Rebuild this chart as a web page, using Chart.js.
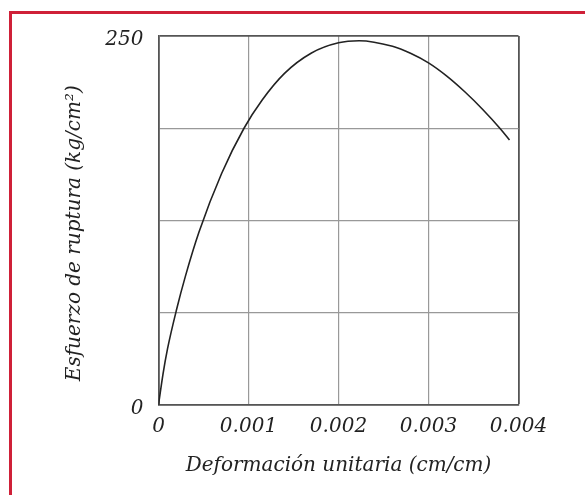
<!DOCTYPE html>
<html>
<head>
<meta charset="utf-8">
<script src="https://cdn.jsdelivr.net/npm/chart.js@4"></script>
<style>
  html, body { margin: 0; padding: 0; background: #fff; }
  #wrap { position: relative; width: 585px; height: 495px; overflow: hidden; }
  #marco { position: absolute; left: 9px; top: 11px; width: 700px; height: 700px;
           border-left: 3px solid #cf2038; border-top: 3px solid #cf2038; }
  canvas { position: absolute; left: 0; top: 0; }
</style>
</head>
<body>
<div id="wrap">
  <div id="marco"></div>
  <canvas id="grafica" width="585" height="495"></canvas>
</div>
<script>
// deformacion unitaria (cm/cm) y esfuerzo (kg/cm2)
var deformacion = [0, 0.00005, 0.0001, 0.0002, 0.0003, 0.00045, 0.0007, 0.00095, 0.00115, 0.0014, 0.0017, 0.002, 0.00223, 0.0026, 0.0028, 0.003, 0.0032, 0.0034, 0.0036, 0.0038, 0.0039];
var esfuerzo = [0, 21, 38, 64.5, 87.5, 117.2, 156.7, 187.5, 206.5, 224.7, 238.5, 245.4, 246.8, 243, 238.3, 231.8, 223, 212.4, 200.4, 187, 179.5];

var xTicks = [0, 0.001, 0.002, 0.003, 0.004];
var yTicks = [0, 250];

var tituloX = "Deformación unitaria (cm/cm)";
var tituloY = "Esfuerzo de ruptura (kg/cm²)    ";

var puntos = [];
for (var i = 0; i < deformacion.length; i++) {
    puntos.push({x: deformacion[i], y: esfuerzo[i]});
}

var fuente = {family: "'DejaVu Serif', serif", style: "italic", size: 20};

new Chart(document.getElementById("grafica"), {
    type: 'scatter',
    data: {
        datasets: [{
            data: puntos,
            showLine: true,
            borderColor: "#222",
            borderWidth: 1.6,
            pointRadius: 0,
            cubicInterpolationMode: 'monotone',
            fill: false
        }]
    },
    options: {
        responsive: false,
        animation: false,
        layout: {padding: {left: 63, top: 36, right: 66.5, bottom: 0}},
        plugins: {legend: {display: false}, tooltip: {enabled: false}},
        scales: {
            x: {
                type: 'linear',
                min: 0,
                max: 0.004,
                afterFit: function(s) { s.height = 90; },
                ticks: {
                    stepSize: 0.001,
                    autoSkip: false,
                    maxRotation: 0,
                    padding: 10,
                    color: "#222",
                    font: fuente,
                    callback: function(v) {
                        for (var k = 0; k < xTicks.length; k++) {
                            if (Math.abs(v - xTicks[k]) < 1e-9) return xTicks[k] === 0 ? "0" : xTicks[k].toFixed(3);
                        }
                        return "";
                    }
                },
                grid: {
                    drawTicks: false,
                    color: function(c) { return c.tick && Math.abs(c.tick.value - 0.004) < 1e-9 ? "#555" : "#999"; },
                    lineWidth: function(c) { return c.tick && Math.abs(c.tick.value - 0.004) < 1e-9 ? 1.8 : 1.2; }
                },
                border: {color: "#555", width: 1.8},
                title: {display: true, text: tituloX, color: "#222", font: fuente, padding: {top: 0, bottom: 17}}
            },
            y: {
                min: 0,
                max: 250,
                afterFit: function(s) { s.width = 95.5; },
                ticks: {
                    stepSize: 62.5,
                    padding: 15,
                    labelOffset: 4,
                    color: "#222",
                    font: fuente,
                    callback: function(v) { return yTicks.indexOf(v) >= 0 ? String(v) : ""; }
                },
                grid: {
                    drawTicks: false,
                    color: function(c) { return c.tick && c.tick.value === 250 ? "#555" : "#999"; },
                    lineWidth: function(c) { return c.tick && c.tick.value === 250 ? 1.8 : 1.2; }
                },
                border: {color: "#555", width: 1.8},
                title: {display: true, text: tituloY, color: "#222", font: fuente, padding: {top: 0, bottom: 0}}
            }
        }
    }
});
</script>
</body>
</html>
